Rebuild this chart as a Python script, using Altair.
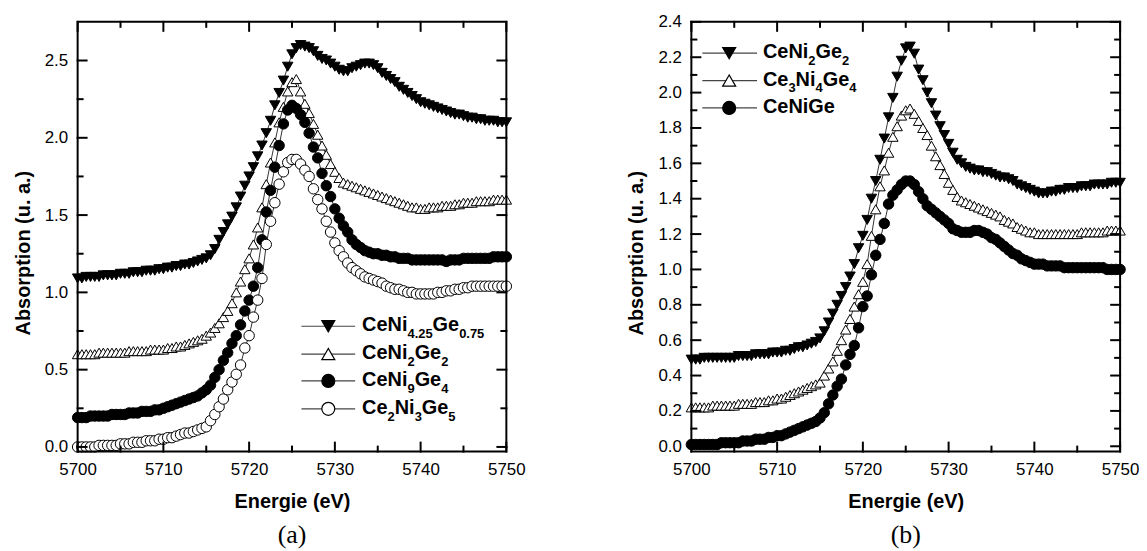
import altair as alt
import pandas as pd

# ---------------- data ----------------
ENERGY = [5700 + 0.5 * i for i in range(101)]

X_MAJOR = [5700, 5710, 5720, 5730, 5740, 5750]
X_MINOR = [5705, 5715, 5725, 5735, 5745]

# panel (a)
A_NAMES = ["CeNi4.25Ge0.75", "CeNi2Ge2", "CeNi9Ge4", "Ce2Ni3Ge5"]
A_CENI425GE075 = [
    1.09, 1.09, 1.10, 1.10, 1.10, 1.10, 1.11, 1.11, 1.11, 1.11,
    1.12, 1.12, 1.12, 1.13, 1.13, 1.13, 1.14, 1.14, 1.14, 1.15,
    1.15, 1.16, 1.16, 1.17, 1.17, 1.18, 1.18, 1.19, 1.20, 1.21,
    1.22, 1.24, 1.28, 1.34, 1.39, 1.44, 1.49, 1.55, 1.62, 1.69,
    1.75, 1.81, 1.88, 1.95, 2.03, 2.11, 2.21, 2.29, 2.37, 2.46,
    2.54, 2.58, 2.60, 2.59, 2.58, 2.56, 2.53, 2.51, 2.50, 2.48,
    2.46, 2.44, 2.43, 2.43, 2.45, 2.46, 2.47, 2.48, 2.48, 2.47,
    2.45, 2.42, 2.40, 2.38, 2.36, 2.33, 2.31, 2.29, 2.27, 2.25,
    2.23, 2.22, 2.21, 2.20, 2.19, 2.18, 2.17, 2.16, 2.15, 2.15,
    2.14, 2.13, 2.13, 2.12, 2.12, 2.11, 2.11, 2.11, 2.10, 2.10,
    2.10]
A_CENI2GE2 = [
    0.60, 0.60, 0.60, 0.60, 0.60, 0.61, 0.61, 0.61, 0.61, 0.61,
    0.61, 0.61, 0.62, 0.62, 0.62, 0.62, 0.62, 0.63, 0.63, 0.63,
    0.63, 0.64, 0.64, 0.65, 0.65, 0.66, 0.67, 0.68, 0.69, 0.70,
    0.72, 0.74, 0.77, 0.80, 0.84, 0.88, 0.93, 1.00, 1.07, 1.15,
    1.22, 1.31, 1.42, 1.55, 1.70, 1.84, 1.97, 2.10, 2.20, 2.30,
    2.36, 2.38, 2.30, 2.22, 2.16, 2.09, 2.02, 1.95, 1.89, 1.83,
    1.78, 1.74, 1.71, 1.70, 1.69, 1.68, 1.67, 1.66, 1.65, 1.64,
    1.63, 1.62, 1.61, 1.60, 1.59, 1.58, 1.57, 1.56, 1.55, 1.55,
    1.54, 1.54, 1.55, 1.55, 1.55, 1.56, 1.56, 1.56, 1.57, 1.57,
    1.58, 1.58, 1.58, 1.59, 1.59, 1.59, 1.59, 1.60, 1.60, 1.60,
    1.60]
A_CENI9GE4 = [
    0.19, 0.19, 0.19, 0.20, 0.20, 0.20, 0.20, 0.20, 0.21, 0.21,
    0.21, 0.21, 0.22, 0.22, 0.22, 0.23, 0.23, 0.23, 0.24, 0.24,
    0.25, 0.26, 0.27, 0.28, 0.29, 0.30, 0.31, 0.32, 0.33, 0.35,
    0.37, 0.40, 0.45, 0.50, 0.56, 0.61, 0.67, 0.72, 0.79, 0.88,
    0.95, 1.04, 1.16, 1.34, 1.52, 1.66, 1.81, 1.95, 2.09, 2.18,
    2.21, 2.19, 2.15, 2.10, 2.03, 1.94, 1.87, 1.77, 1.69, 1.62,
    1.54, 1.48, 1.43, 1.39, 1.34, 1.31, 1.29, 1.27, 1.26, 1.25,
    1.25, 1.24, 1.24, 1.23, 1.23, 1.22, 1.22, 1.22, 1.21, 1.21,
    1.21, 1.21, 1.21, 1.21, 1.21, 1.21, 1.20, 1.21, 1.21, 1.21,
    1.22, 1.22, 1.22, 1.22, 1.22, 1.22, 1.22, 1.23, 1.23, 1.23,
    1.23]
A_CE2NI3GE5 = [
    0.00, 0.00, 0.00, 0.00, 0.00, 0.01, 0.01, 0.01, 0.01, 0.01,
    0.02, 0.02, 0.02, 0.03, 0.03, 0.03, 0.04, 0.04, 0.04, 0.05,
    0.05, 0.06, 0.06, 0.07, 0.08, 0.09, 0.09, 0.10, 0.11, 0.12,
    0.13, 0.17, 0.21, 0.26, 0.31, 0.37, 0.42, 0.47, 0.53, 0.64,
    0.72, 0.84, 0.95, 1.09, 1.31, 1.46, 1.58, 1.70, 1.78, 1.84,
    1.86, 1.86, 1.83, 1.79, 1.75, 1.67, 1.60, 1.54, 1.46, 1.39,
    1.32, 1.27, 1.23, 1.19, 1.16, 1.14, 1.12, 1.10, 1.09, 1.08,
    1.07, 1.06, 1.04, 1.03, 1.02, 1.02, 1.01, 1.00, 1.00, 0.99,
    0.99, 0.99, 0.99, 0.99, 1.00, 1.00, 1.01, 1.01, 1.02, 1.02,
    1.03, 1.03, 1.04, 1.04, 1.04, 1.04, 1.04, 1.04, 1.04, 1.04,
    1.04]
A_Y_MAJOR = [0.0, 0.5, 1.0, 1.5, 2.0, 2.5]
A_Y_MINOR = [0.25, 0.75, 1.25, 1.75, 2.25]

# panel (b)
B_NAMES = ["CeNi2Ge2 (b)", "Ce3Ni4Ge4", "CeNiGe"]
B_CENI2GE2 = [
    0.49, 0.49, 0.49, 0.50, 0.50, 0.50, 0.50, 0.50, 0.50, 0.50,
    0.50, 0.51, 0.51, 0.51, 0.51, 0.52, 0.52, 0.52, 0.52, 0.53,
    0.53, 0.53, 0.54, 0.54, 0.55, 0.56, 0.56, 0.57, 0.58, 0.59,
    0.61, 0.65, 0.70, 0.75, 0.80, 0.85, 0.90, 0.96, 1.03, 1.12,
    1.19, 1.28, 1.40, 1.50, 1.62, 1.74, 1.86, 1.97, 2.09, 2.18,
    2.25, 2.26, 2.22, 2.13, 2.07, 2.00, 1.94, 1.87, 1.81, 1.76,
    1.71, 1.66, 1.62, 1.60, 1.58, 1.57, 1.56, 1.56, 1.55, 1.55,
    1.54, 1.53, 1.52, 1.52, 1.51, 1.50, 1.48, 1.47, 1.46, 1.45,
    1.44, 1.43, 1.43, 1.43, 1.44, 1.44, 1.45, 1.45, 1.46, 1.46,
    1.46, 1.47, 1.47, 1.47, 1.48, 1.48, 1.48, 1.48, 1.49, 1.49,
    1.49]
B_CE3NI4GE4 = [
    0.22, 0.22, 0.22, 0.22, 0.22, 0.23, 0.23, 0.23, 0.23, 0.23,
    0.23, 0.24, 0.24, 0.24, 0.24, 0.25, 0.25, 0.25, 0.26, 0.26,
    0.27, 0.27, 0.28, 0.29, 0.30, 0.31, 0.32, 0.33, 0.34, 0.35,
    0.36, 0.40, 0.44, 0.48, 0.54, 0.60, 0.66, 0.72, 0.79, 0.86,
    0.93, 1.03, 1.19, 1.34, 1.47, 1.56, 1.66, 1.75, 1.81, 1.87,
    1.90, 1.91, 1.88, 1.84, 1.80, 1.76, 1.70, 1.64, 1.59, 1.54,
    1.49, 1.45, 1.41, 1.39, 1.38, 1.37, 1.36, 1.35, 1.34, 1.33,
    1.32, 1.31, 1.30, 1.28, 1.27, 1.26, 1.24, 1.23, 1.22, 1.21,
    1.21, 1.20, 1.20, 1.20, 1.20, 1.20, 1.20, 1.20, 1.20, 1.20,
    1.20, 1.21, 1.21, 1.21, 1.21, 1.21, 1.21, 1.22, 1.22, 1.22,
    1.22]
B_CENIGE = [
    0.01, 0.01, 0.01, 0.01, 0.01, 0.01, 0.01, 0.02, 0.02, 0.02,
    0.02, 0.02, 0.03, 0.03, 0.03, 0.04, 0.04, 0.04, 0.05, 0.05,
    0.06, 0.06, 0.07, 0.08, 0.09, 0.10, 0.11, 0.12, 0.13, 0.14,
    0.16, 0.19, 0.24, 0.29, 0.34, 0.38, 0.46, 0.52, 0.57, 0.67,
    0.79, 0.85, 0.97, 1.08, 1.17, 1.26, 1.37, 1.42, 1.45, 1.48,
    1.50, 1.50, 1.48, 1.44, 1.40, 1.36, 1.34, 1.32, 1.30, 1.28,
    1.26, 1.23, 1.22, 1.21, 1.21, 1.21, 1.22, 1.22, 1.21, 1.20,
    1.18, 1.17, 1.15, 1.13, 1.11, 1.09, 1.08, 1.06, 1.05, 1.04,
    1.03, 1.03, 1.03, 1.02, 1.02, 1.02, 1.02, 1.01, 1.01, 1.01,
    1.01, 1.01, 1.01, 1.01, 1.01, 1.01, 1.01, 1.00, 1.00, 1.00,
    1.00]
B_Y_MAJOR = [0.0, 0.2, 0.4, 0.6, 0.8, 1.0, 1.2, 1.4, 1.6, 1.8, 2.0, 2.2, 2.4]
B_Y_MINOR = [0.1, 0.3, 0.5, 0.7, 0.9, 1.1, 1.3, 1.5, 1.7, 1.9, 2.1, 2.3]

# legend labels: (text, is_subscript)
A_LEGEND = [
    [("CeNi", False), ("4.25", True), ("Ge", False), ("0.75", True)],
    [("CeNi", False), ("2", True), ("Ge", False), ("2", True)],
    [("CeNi", False), ("9", True), ("Ge", False), ("4", True)],
    [("Ce", False), ("2", True), ("Ni", False), ("3", True), ("Ge", False), ("5", True)],
]
B_LEGEND = [
    [("CeNi", False), ("2", True), ("Ge", False), ("2", True)],
    [("Ce", False), ("3", True), ("Ni", False), ("4", True), ("Ge", False), ("4", True)],
    [("CeNiGe", False)],
]

A_SHAPES = ["triangle-down", "triangle-up", "circle", "circle"]
A_FILLS = ["black", "white", "black", "white"]
A_SIZES = [110, 110, 90, 90]
B_SHAPES = ["triangle-down", "triangle-up", "circle"]
B_FILLS = ["black", "white", "black"]
B_SIZES = [115, 110, 95]

# ---------------- styling ----------------
W, H = 431, 432
X_DOMAIN = [5700, 5750]
FONT = "Liberation Sans"
MAIN_FS, SUB_FS = 20, 13
MAJOR_LEN, MINOR_LEN = 9, 5
BOLD_W = {"C": 722, "e": 556, "N": 722, "i": 278, "G": 778, ".": 278}
for d in "0123456789":
    BOLD_W[d] = 556


def text_width(s, size):
    return sum(BOLD_W[c] for c in s) * size / 1000.0


ONE = pd.DataFrame({"k": [1]})


def frame_and_ticks(ydom, ymaj, ymin):
    """Frame box and inward tick segments, expressed in data coordinates."""
    x0, x1 = X_DOMAIN
    y0, y1 = ydom
    ux = (x1 - x0) / W          # data units per pixel along x
    uy = (y1 - y0) / H          # data units per pixel along y
    rows = []
    for o, (e, a) in enumerate([(x0, y0), (x1, y0), (x1, y1), (x0, y1), (x0, y0)]):
        rows.append({"E": e, "A": a, "seg": "frame", "o": o})
    for vals, ln in ((X_MAJOR, MAJOR_LEN), (X_MINOR, MINOR_LEN)):
        for v in vals:
            rows += [{"E": v, "A": y0, "seg": "xb%g" % v, "o": 0},
                     {"E": v, "A": y0 + ln * uy, "seg": "xb%g" % v, "o": 1},
                     {"E": v, "A": y1, "seg": "xt%g" % v, "o": 0},
                     {"E": v, "A": y1 - ln * uy, "seg": "xt%g" % v, "o": 1}]
    for vals, ln in ((ymaj, MAJOR_LEN), (ymin, MINOR_LEN)):
        for v in vals:
            rows += [{"E": x0, "A": v, "seg": "yl%g" % v, "o": 0},
                     {"E": x0 + ln * ux, "A": v, "seg": "yl%g" % v, "o": 1},
                     {"E": x1, "A": v, "seg": "yr%g" % v, "o": 0},
                     {"E": x1 - ln * ux, "A": v, "seg": "yr%g" % v, "o": 1}]
    return pd.DataFrame(rows)


def make_panel(names, series, shapes, fills, sizes, ydom, ymaj, ymin,
               legend, leg_rows, leg_line, leg_marker_x, leg_text_x, label):
    rows = []
    for n, vals in zip(names, series):
        assert len(vals) == len(ENERGY), (n, len(vals))
        for e, v in zip(ENERGY, vals):
            rows.append({"E": e, "A": v, "series": n})
    df = pd.DataFrame(rows)

    X = alt.X("E:Q", scale=alt.Scale(domain=X_DOMAIN, nice=False, zero=False, padding=0),
              axis=alt.Axis(values=X_MAJOR, format="d", title="Energie (eV)",
                            ticks=False, tickSize=0, domain=False, grid=False,
                            labelFlush=False, labelPadding=10, titlePadding=14))
    Y = alt.Y("A:Q", scale=alt.Scale(domain=ydom, nice=False, zero=False, padding=0),
              axis=alt.Axis(values=ymaj, format=".1f", title="Absorption (u. a.)",
                            ticks=False, tickSize=0, domain=False, grid=False,
                            labelFlush=False, labelPadding=10, titlePadding=11,
                            titleY=232))

    base = alt.Chart(df)
    lines = base.mark_line(color="#333333", strokeWidth=1).encode(
        x=X, y=Y, detail="series:N")
    pts = base.mark_point(filled=True, opacity=1, stroke="black",
                          strokeWidth=1).encode(
        x=X, y=Y,
        shape=alt.Shape("series:N", scale=alt.Scale(domain=names, range=shapes), legend=None),
        fill=alt.Fill("series:N", scale=alt.Scale(domain=names, range=fills), legend=None),
        size=alt.Size("series:N", scale=alt.Scale(domain=names, range=sizes), legend=None),
    )

    box = alt.Chart(frame_and_ticks(ydom, ymaj, ymin)).mark_line(
        color="#000000", strokeWidth=2, strokeCap="square", opacity=1).encode(
        x=X, y=Y, detail="seg:N", order="o:Q")

    layers = [lines, pts, box]

    # legend
    for i, pieces in enumerate(legend):
        ry = leg_rows[i]
        layers.append(alt.Chart(ONE).mark_rule(color="#444444", strokeWidth=1.2).encode(
            x=alt.value(leg_line[0]), x2=alt.value(leg_line[1]), y=alt.value(ry)))
        layers.append(alt.Chart(ONE).mark_point(
            shape=shapes[i], filled=True, fill=fills[i], stroke="black",
            strokeWidth=1.2, size=170, opacity=1).encode(
            x=alt.value(leg_marker_x), y=alt.value(ry)))
        cx = leg_text_x
        for txt, sub in pieces:
            fs = SUB_FS if sub else MAIN_FS
            layers.append(alt.Chart(ONE).mark_text(
                text=txt, font=FONT, fontWeight="bold", fontSize=fs,
                align="left", baseline="alphabetic", color="black").encode(
                x=alt.value(cx), y=alt.value(ry + (12 if sub else 5))))
            cx += text_width(txt, fs)

    return alt.layer(*layers).properties(
        width=W, height=H,
        title=alt.TitleParams(label, orient="bottom", font="Liberation Serif",
                              fontSize=26, fontWeight="normal", anchor="middle",
                              offset=11, color="black"))


pa = make_panel(A_NAMES, [A_CENI425GE075, A_CENI2GE2, A_CENI9GE4, A_CE2NI3GE5],
                A_SHAPES, A_FILLS, A_SIZES, [-0.03, 2.75], A_Y_MAJOR, A_Y_MINOR,
                A_LEGEND, [306, 334, 361, 389], (225, 279), 252, 286, "(a)")
pb = make_panel(B_NAMES, [B_CENI2GE2, B_CE3NI4GE4, B_CENIGE],
                B_SHAPES, B_FILLS, B_SIZES, [-0.03, 2.4], B_Y_MAJOR, B_Y_MINOR,
                B_LEGEND, [31.5, 59, 86.5], (11, 66), 38, 72, "(b)")

chart = alt.hconcat(pa, pb, spacing=102).properties(
    padding={"left": 5, "top": 3.5, "right": 0, "bottom": 0},
    background="white",
).configure_view(
    strokeWidth=0
).configure_axis(
    labelFont=FONT, labelFontSize=17, labelColor="black",
    titleFont=FONT, titleFontSize=20, titleFontWeight="bold", titleColor="black",
)

chart.save("out.html", embed_options={"renderer": "svg", "actions": False})
